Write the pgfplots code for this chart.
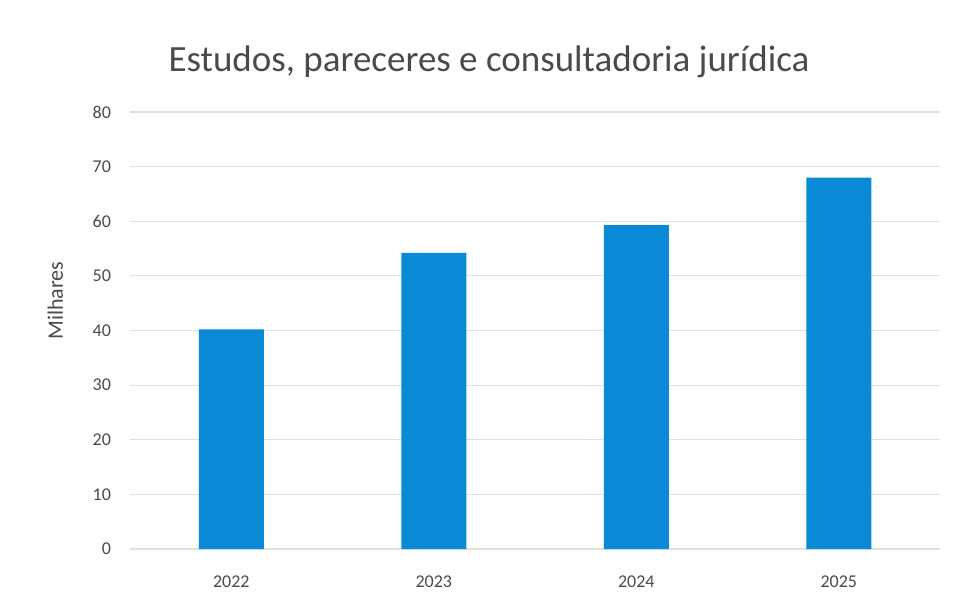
\documentclass[border=0pt]{standalone}
\usepackage{pgfplots}
\pgfplotsset{compat=1.18}
\usepackage{fontspec}
\setmainfont{Carlito}
\definecolor{barblue}{HTML}{0A8AD6}
\definecolor{gridgray}{HTML}{E0E0E0}
\definecolor{txtgray}{HTML}{4A4A4A}
\begin{document}
\begin{tikzpicture}
% 1 px of the reference = 0.5pt
\useasboundingbox (0,0) rectangle (478.5pt,303.5pt);
\begin{axis}[
    at={(65pt,29pt)}, anchor=south west,
    scale only axis,
    width=405pt, height=218.5pt,
    xmin=-0.5, xmax=3.5,
    ymin=0, ymax=80,
    ytick={0,10,...,80},
    xtick=data,
    xticklabels={2022,2023,2024,2025},
    ymajorgrids,
    grid style={gridgray, line width=0.6pt},
    axis line style={draw=none},
    major tick style={draw=none},
    tick label style={font=\fontsize{9}{11}\selectfont, text=txtgray},
    /pgf/number format/assume math mode=true,
    yticklabel style={xshift=-6pt},
    xticklabel style={yshift=-10pt},
    ylabel={Milhares},
    ylabel style={font=\fontsize{11}{13}\selectfont, text=txtgray, yshift=8pt, xshift=15pt},
]
\addplot[ybar, bar width=32.5pt, fill=barblue, draw=none] coordinates {
    (0,40.2)
    (1,54.2)
    (2,59.3)
    (3,68.0)
};
\end{axis}
\node[font=\fontsize{18.5}{22}\selectfont, text=txtgray] at (244.5pt,272.5pt)
    {Estudos, pareceres e consultadoria jurídica};
\end{tikzpicture}
\end{document}
